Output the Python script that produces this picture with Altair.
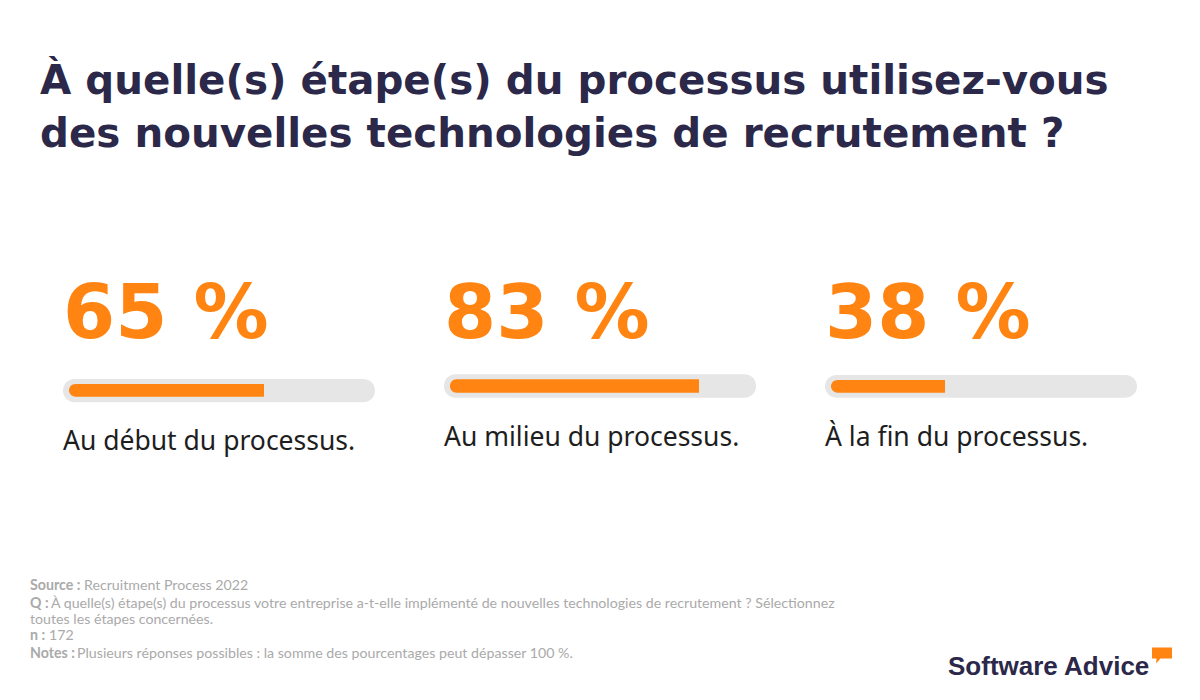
import altair as alt
import pandas as pd

# ---- data ----
stages = ["Au début du processus.", "Au milieu du processus.", "À la fin du processus."]
values = [65, 83, 38]
title_lines = ["À quelle(s) étape(s) du processus utilisez-vous",
               "des nouvelles technologies de recrutement ?"]
note_labels = ["Source :", "Q :", "", "n :", "Notes :"]
note_texts = ["Recruitment Process 2022",
              "À quelle(s) étape(s) du processus votre entreprise a-t-elle implémenté de nouvelles technologies de recrutement ? Sélectionnez",
              "toutes les étapes concernées.",
              "172",
              "Plusieurs réponses possibles : la somme des pourcentages peut dépasser 100 %."]
brand = "Software Advice"

# ---- style / layout ----
ORANGE = "#FF8411"
TRACK = "#E6E6E6"
NAVY = "#2B2849"
INK = "#1E1E1E"
GREY = "#AAAAAA"
W, H = 1184, 684
panel_x0 = [55, 436, 817]
panel_w = 312
track_y = [(371, 394.3), (366.3, 389.7), (367, 389.7)]
fill_y = [(376, 388.7), (371.3, 384.7), (372, 384.7)]
pct_base = [330, 330, 330]
label_base = [442, 438, 438]

layers = []
for i, (stage, v) in enumerate(zip(stages, values)):
    df = pd.DataFrame({"lo": [-2], "start": [0], "hi": [102], "value": [v],
                       "pct": [f"{v} %"], "stage": [stage]})
    xs = alt.Scale(domain=[-2, 102], range=[panel_x0[i], panel_x0[i] + panel_w])
    base = alt.Chart(df)
    track = base.mark_bar(color=TRACK, cornerRadius=11.5).encode(
        x=alt.X("lo:Q", scale=xs, axis=None), x2="hi:Q",
        y=alt.value(track_y[i][0]), y2=alt.value(track_y[i][1]))
    fill = base.mark_bar(color=ORANGE, cornerRadiusTopLeft=6.5, cornerRadiusBottomLeft=6.5).encode(
        x=alt.X("start:Q", scale=xs, axis=None), x2="value:Q",
        y=alt.value(fill_y[i][0]), y2=alt.value(fill_y[i][1]))
    pct = base.mark_text(align="left", baseline="alphabetic", font="DejaVu Sans",
                         fontWeight="bold", fontSize=75, color=ORANGE).encode(
        x=alt.X("lo:Q", scale=xs, axis=None), y=alt.value(pct_base[i]), text="pct:N")
    lab = base.mark_text(align="left", baseline="alphabetic", font="Noto Sans",
                         fontSize=26.5, color=INK).encode(
        x=alt.X("lo:Q", scale=xs, axis=None), y=alt.value(label_base[i]), text="stage:N")
    layers.append(alt.layer(track, fill, pct, lab))

one = pd.DataFrame({"k": [0]})
title_layers = []
for j, line in enumerate(title_lines):
    title_layers.append(alt.Chart(one).mark_text(
        align="left", baseline="alphabetic", font="DejaVu Sans", fontWeight="bold",
        fontSize=40.4, color=NAVY).encode(
        x=alt.value(32), y=alt.value(86 + 53 * j), text=alt.value(line)))

note_y = [578, 596, 612, 628, 646]
note_dx = [54, 21, 0, 19, 47]
note_layers = []
for lbl, txt, yy, dx in zip(note_labels, note_texts, note_y, note_dx):
    if lbl:
        note_layers.append(alt.Chart(one).mark_text(
            align="left", baseline="middle", font="Lato", fontWeight="bold",
            fontSize=14.2, color=GREY).encode(
            x=alt.value(22), y=alt.value(yy), text=alt.value(lbl)))
    note_layers.append(alt.Chart(one).mark_text(
        align="left", baseline="middle", font="Lato", fontSize=14.2, color=GREY).encode(
        x=alt.value(22 + dx), y=alt.value(yy), text=alt.value(txt)))

logo_text = alt.Chart(one).mark_text(
    align="left", baseline="alphabetic", font="Liberation Sans", fontWeight="bold",
    fontSize=26, color=NAVY).encode(
    x=alt.value(940), y=alt.value(667), text=alt.value(brand))
bubble = alt.Chart(one).mark_point(
    shape="M -1 -0.75 L 1 -0.75 L 1 0.35 L -0.15 0.35 L -0.6 0.85 L -0.55 0.35 L -1 0.35 Z",
    filled=True, opacity=1, color=ORANGE, size=400).encode(
    x=alt.value(1154), y=alt.value(647))

chart = alt.layer(*layers, *title_layers, *note_layers, logo_text, bubble).resolve_scale(
    x="independent").properties(
    width=W, height=H, autosize=alt.AutoSizeParams(type="none"), padding=0,
    background="white").configure_view(stroke=None)

chart.save("out.html", embed_options={"renderer": "svg", "actions": False})
